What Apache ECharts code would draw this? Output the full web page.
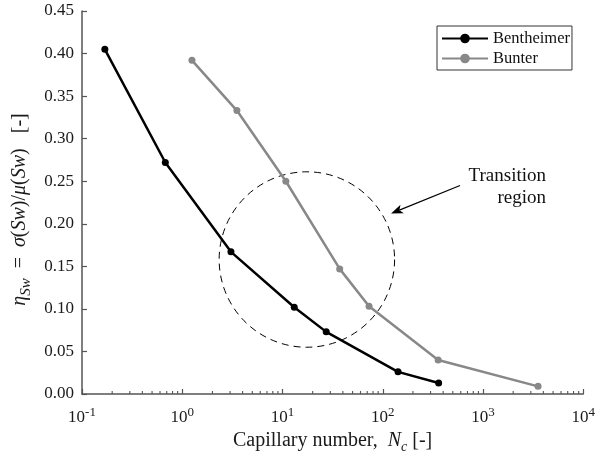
<!DOCTYPE html>
<html><head><meta charset="utf-8">
<script src="https://cdn.jsdelivr.net/npm/echarts@6/dist/echarts.min.js"></script>
<style>html,body{margin:0;padding:0;background:#fff}#c{width:598px;height:465px}</style>
</head><body><div id="c"></div>
<script>
const FONT = "'Liberation Serif','Times New Roman',serif";
const benthX = [0.169, 0.678, 3.06, 13.1, 27.3, 142, 361];
const benthY = [0.405, 0.272, 0.167, 0.102, 0.073, 0.026, 0.013];
const bunterX = [1.25, 3.51, 10.8, 37.2, 73, 357, 3540];
const bunterY = [0.392, 0.333, 0.250, 0.147, 0.103, 0.040, 0.009];
const yTicks = [0, 0.05, 0.10, 0.15, 0.20, 0.25, 0.30, 0.35, 0.40, 0.45];
const decades = [-1, 0, 1, 2, 3, 4];
const circleCenter = [17.5, 0.158];
const circleRadiusDecades = 0.875;
const arrowTail = [590, 0.245];
const arrowHead = [121, 0.212];

const minorVals = [];
for (let k = -1; k < 4; k++) for (let m = 2; m <= 9; m++) minorVals.push([m * Math.pow(10, k), 0]);

const chart = echarts.init(document.getElementById('c'), null, {renderer: 'canvas'});
const axisColor = '#555';
const txt = '#1a1a1a';
chart.setOption({
  animation: false,
  backgroundColor: '#fff',
  grid: {left: 82, right: 10, top: 11, bottom: 71, containLabel: false},
  xAxis: {
    type: 'log', logBase: 10, min: 0.1, max: 10000,
    axisLine: {lineStyle: {color: axisColor, width: 1.5}},
    axisTick: {inside: true, length: 5, lineStyle: {color: axisColor, width: 1.2}},
    splitLine: {show: false},
    axisLabel: {
      margin: 12, color: txt, fontFamily: FONT, fontSize: 17,
      formatter: v => '10{s|' + Math.round(Math.log10(v)) + '}',
      rich: {s: {fontFamily: FONT, fontSize: 13, verticalAlign: 'top', padding: [0,0,10,0], color: txt}}
    },
    name: 'Capillary number,  {i|N}{sub|c} [-]',
    nameLocation: 'middle', nameGap: 32,
    nameTextStyle: {
      fontFamily: FONT, fontSize: 20, color: txt,
      rich: {
        i: {fontFamily: FONT, fontSize: 20, fontStyle: 'italic', color: txt},
        sub: {fontFamily: FONT, fontSize: 14, fontStyle: 'italic', color: txt, padding: [12,0,0,0]}
      }
    }
  },
  yAxis: {
    type: 'value', min: 0, max: 0.45, interval: 0.05,
    axisLine: {show: true, lineStyle: {color: axisColor, width: 1.5}},
    axisTick: {show: true, inside: true, length: 5, lineStyle: {color: axisColor, width: 1.2}},
    splitLine: {show: false},
    axisLabel: {margin: 8, color: txt, fontFamily: FONT, fontSize: 17, formatter: v => v.toFixed(2)},
    name: '{i|η}{sub|Sw}  =  {i|σ}({i|Sw})/{i|μ}({i|Sw})   [-]',
    nameLocation: 'middle', nameGap: 32, nameRotate: 90,
    nameTextStyle: {
      fontFamily: FONT, fontSize: 20, color: txt, padding: [0, 14, 0, 0],
      rich: {
        i: {fontFamily: FONT, fontSize: 20, fontStyle: 'italic', color: txt},
        sub: {fontFamily: FONT, fontSize: 15, fontStyle: 'italic', color: txt, padding: [13,0,0,0]}
      }
    }
  },
  legend: {
    orient: 'vertical', left: 437, top: 26, padding: [4, 2, 3, 4],
    borderColor: '#333', borderWidth: 1, itemWidth: 46, itemHeight: 12, itemGap: 3,
    textStyle: {fontFamily: FONT, fontSize: 16.5, color: '#111', padding: [0,0,0,0]},
    data: ['Bentheimer', 'Bunter']
  },
  series: [
    {name: 'Bentheimer', type: 'line', data: benthX.map((x, i) => [x, benthY[i]]),
     symbol: 'circle', symbolSize: 7, lineStyle: {color: '#000', width: 2.5}, itemStyle: {color: '#000'}, z: 4},
    {name: 'Bunter', type: 'line', data: bunterX.map((x, i) => [x, bunterY[i]]),
     symbol: 'circle', symbolSize: 7, lineStyle: {color: '#888', width: 2.5}, itemStyle: {color: '#888'}, z: 3},
    {name: 'minor', type: 'custom', data: minorVals, silent: true, z: 2,
     renderItem: (params, api) => {
       const p = api.coord([api.value(0), 0]);
       return {type: 'line', shape: {x1: p[0], y1: p[1], x2: p[0], y2: p[1] - 3}, style: {stroke: axisColor, lineWidth: 1.1}};
     }}
  ]
});

const c = chart.convertToPixel({gridIndex: 0}, circleCenter);
const edge = chart.convertToPixel({gridIndex: 0}, [circleCenter[0] * Math.pow(10, circleRadiusDecades), circleCenter[1]]);
const r = edge[0] - c[0];
const t = chart.convertToPixel({gridIndex: 0}, arrowTail);
const h = chart.convertToPixel({gridIndex: 0}, arrowHead);
const ang = Math.atan2(h[1] - t[1], h[0] - t[0]);
const L = 12, W = 4.5;
const back = [h[0] - L * Math.cos(ang), h[1] - L * Math.sin(ang)];
const nx = -Math.sin(ang), ny = Math.cos(ang);
const notch = [back[0] + 3 * Math.cos(ang), back[1] + 3 * Math.sin(ang)];
chart.setOption({
  graphic: [
    {type: 'circle', shape: {cx: c[0], cy: c[1], r: r}, style: {fill: null, stroke: '#000', lineWidth: 1, lineDash: [7, 5]}, z: 1},
    {type: 'line', shape: {x1: t[0], y1: t[1], x2: notch[0], y2: notch[1]}, style: {stroke: '#000', lineWidth: 1.2}},
    {type: 'polygon', shape: {points: [h, [back[0] + W * nx, back[1] + W * ny], notch, [back[0] - W * nx, back[1] - W * ny]]}, style: {fill: '#000'}},
    {type: 'text', x: 546, y: 165, style: {text: 'Transition\nregion', font: '19px ' + FONT, fill: '#111', lineHeight: 22, align: 'right', verticalAlign: 'top'}}
  ]
});
</script></body></html>
